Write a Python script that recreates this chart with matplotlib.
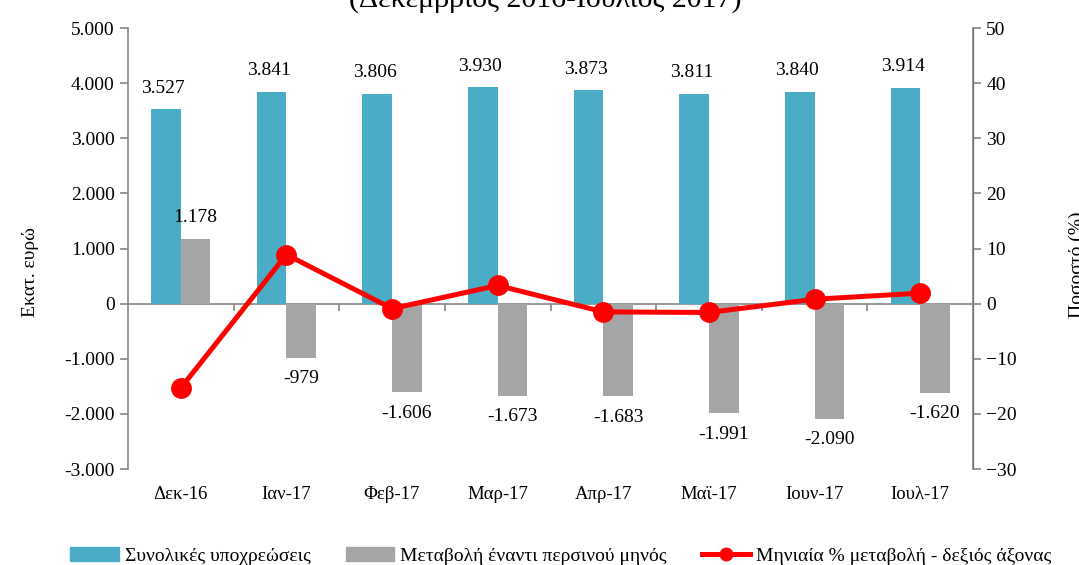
import matplotlib
matplotlib.use("Agg")
import matplotlib.pyplot as plt
import numpy as np
from matplotlib.lines import Line2D
from matplotlib.patches import Patch

months = ['Δεκ-16', 'Ιαν-17', 'Φεβ-17', 'Μαρ-17', 'Απρ-17', 'Μαϊ-17', 'Ιουν-17', 'Ιουλ-17']
total_liab = [3527, 3841, 3806, 3930, 3873, 3811, 3840, 3914]
yoy_change = [1178, -979, -1606, -1673, -1683, -1991, -2090, -1620]
monthly_pct = [-15.3, 8.9, -0.9, 3.3, -1.5, -1.6, 0.8, 1.9]

teal = '#4BACC6'
grey = '#A5A5A5'
axis_grey = '#868686'

plt.rcParams['font.family'] = ['Liberation Serif', 'DejaVu Serif']
plt.rcParams['font.size'] = 14

def fmt(v):
    return f"{v:,}".replace(',', '.')

fig = plt.figure(figsize=(10.79, 5.65), dpi=100)
ax = fig.add_axes([0.1186, 0.1699, 0.7832, 0.7805])
x = np.arange(len(months))
w = 0.28

b1 = ax.bar(x - w / 2, total_liab, w, color=teal, zorder=2)
b2 = ax.bar(x + w / 2, yoy_change, w, color=grey, zorder=2)

for rect, v in zip(b1, total_liab):
    ax.annotate(fmt(v), (rect.get_x() + rect.get_width() / 2, v),
                xytext=(-2, 9), textcoords='offset points', ha='center', va='bottom')
for rect, v in zip(b2, yoy_change):
    off = 9 if v > 0 else -9
    ax.annotate(fmt(v), (rect.get_x() + rect.get_width() / 2, v),
                xytext=(0, off), textcoords='offset points', ha='center',
                va='bottom' if v > 0 else 'top')

ax.set_xlim(-0.5, len(months) - 0.5)
ax.set_ylim(-3000, 5000)
ax.set_yticks(range(-3000, 5001, 1000))
ax.set_yticklabels([fmt(t) for t in range(-3000, 5001, 1000)])
ax.set_xticks(x)
ax.set_xticklabels(months, fontsize=13.5)
ax.tick_params(axis='x', length=0, pad=12)
ax.tick_params(axis='y', direction='out', length=6, color=axis_grey, width=1.2)

for s in ['top', 'bottom']:
    ax.spines[s].set_visible(False)
ax.spines['left'].set_color(axis_grey)
ax.spines['left'].set_linewidth(1.2)

# zero line with category separators
zero = 3000 / 8000
sec = ax.secondary_xaxis(zero)
sec.set_xticks(x[:-1] + 0.5)
sec.set_xticklabels([])
sec.tick_params(direction='out', length=5, color=axis_grey, width=1.2)
sec.spines['bottom'].set_color(axis_grey)
sec.spines['bottom'].set_linewidth(1.2)

ax2 = ax.twinx()
ax2.plot(x, monthly_pct, color='#FF0000', lw=3.6, marker='o', ms=14, zorder=3)
ax2.set_ylim(-30, 50)
ax2.set_yticks(range(-30, 51, 10))
ax2.tick_params(axis='y', direction='out', length=6, color=axis_grey, width=1.2)
for s in ['top', 'bottom', 'left']:
    ax2.spines[s].set_visible(False)
ax2.spines['right'].set_color(axis_grey)
ax2.spines['right'].set_linewidth(1.2)

fig.text(0.505, 1 - 7 / 565, '(Δεκέμβριος 2016-Ιούλιος 2017)', ha='center', va='baseline', fontsize=21.5)
fig.text(31 / 1079, 1 - 272 / 565, 'Εκατ. ευρώ', rotation=90, ha='center', va='center')
fig.text(1077 / 1079, 1 - 265 / 565, 'Ποσοστό (%)', rotation=90, ha='center', va='center')

handles = [Patch(color=teal), Patch(color=grey),
           Line2D([0], [0], color='#FF0000', lw=3.6, marker='o', ms=9)]
labels = ['Συνολικές υποχρεώσεις', 'Μεταβολή έναντι περσινού μηνός', 'Μηνιαία % μεταβολή - δεξιός άξονας']
fig.legend(handles, labels, loc='center', bbox_to_anchor=(0.52, 0.016), ncol=3, frameon=False,
           handlelength=2.5, handletextpad=0.3, columnspacing=1.8, fontsize=14)

fig.savefig('out.png', dpi=100)
